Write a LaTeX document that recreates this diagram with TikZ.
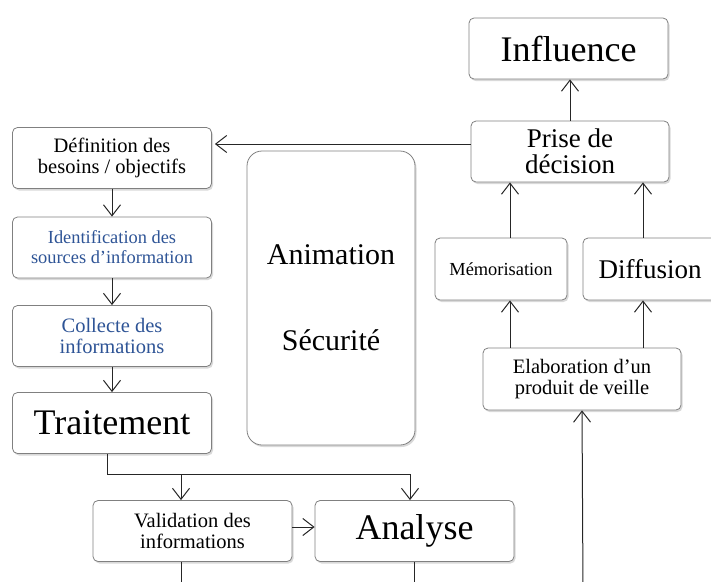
\documentclass[tikz,border=0pt]{standalone}
\usepackage{fontspec}
\setmainfont{Liberation Serif}
\usepackage{xcolor}
\usetikzlibrary{arrows.meta, shadows}

\definecolor{srcblue}{RGB}{46,84,150}
\newcommand{\fbig}{\fontsize{36}{36}\selectfont}
\newcommand{\fmid}{\fontsize{27}{26}\selectfont}
\newcommand{\fsmall}{\fontsize{20.5}{21}\selectfont}
\newcommand{\ftiny}{\fontsize{18.4}{20}\selectfont}

\begin{document}
\begin{tikzpicture}[x=1pt, y=-1pt,
    box/.style={draw=black!50, line width=0.8pt, rounded corners=5pt, fill=white,
        align=center, inner sep=0pt, minimum width=199pt, minimum height=61pt,
        drop shadow={shadow xshift=1.5pt, shadow yshift=-2pt, opacity=0.3}},
    wire/.style={draw=black!85, line width=1pt},
    arr/.style={wire, -{Straight Barb[length=11pt, width=17pt]}}]

\useasboundingbox (0,0) rectangle (711,581);
\clip (0,0) rectangle (711,581);

% left column
\node[box, font=\fsmall] (besoins) at (112,158) {D\'efinition des\\ besoins / objectifs};
\node[box, font=\ftiny, text=srcblue] (sources) at (112,247.5) {Identification des\\ sources d'information};
\node[box, font=\fsmall, text=srcblue] (collecte) at (112,336) {Collecte des\\ informations};
\node[box, font=\fbig] (traitement) at (112,423) {Traitement};

% bottom
\node[box, font=\fsmall] (validation) at (192.5,531) {Validation des\\ informations};
\node[box, font=\fbig] (analyse) at (414.5,531) {Analyse};

% middle
\node[box, rounded corners=15pt, minimum width=168pt, minimum height=294pt,
    font=\fontsize{30}{30}\selectfont] (animation) at (331,298) {Animation\\[56pt] S\'ecurit\'e};

% right column
\node[box, font=\fbig] (influence) at (568.5,48.5) {Influence};
\node[box, font=\fmid, minimum width=198pt] (decision) at (570,151.5) {Prise de\\ d\'ecision};
\node[box, font=\ftiny, minimum width=132pt, minimum height=62pt] (memo) at (501,269) {M\'emorisation};
\node[box, font=\fmid, minimum width=134pt, minimum height=62pt] (diffusion) at (650,269) {Diffusion};
\node[box, font=\fsmall, minimum width=198pt, minimum height=62pt] (produit) at (582,379) {Elaboration d'un\\ produit de veille};
\coordinate (veille) at (583,590);

% left arrows
\draw[arr] (besoins.south) -- (sources.north);
\draw[arr] (sources.south) -- (collecte.north);
\draw[arr] (collecte.south) -- (traitement.north);

% split below Traitement
\draw[arr] ([xshift=-5pt]traitement.south) -- ++(0,21) -| ([xshift=-4.5pt]analyse.north);
\draw[arr] ([xshift=-11.5pt]validation.north) ++(0,-26) -- ([xshift=-11.5pt]validation.north);
\draw[arr] ([yshift=4pt]validation.east) -- ([yshift=4pt]analyse.west);
\draw[wire] ([xshift=-11.5pt]validation.south) -- ++(0,30);
\draw[wire] (analyse.south) -- ++(0,30);

% back to the needs
\draw[arr] ([yshift=7.5pt]decision.west) -- ([yshift=7.5pt, xshift=3pt]decision.west -| besoins.east);

% right arrows
\draw[arr] (decision.north) -- (decision.north |- influence.south);
\draw[arr] ([xshift=9pt]memo.north) -- ([xshift=9pt]memo.north |- decision.south);
\draw[arr] ([xshift=-7pt]diffusion.north) -- ([xshift=-7pt]diffusion.north |- decision.south);
\draw[arr] ([xshift=9pt]memo.south |- produit.north) -- ([xshift=9pt]memo.south);
\draw[arr] ([xshift=-7pt]diffusion.south |- produit.north) -- ([xshift=-7pt]diffusion.south);
\draw[arr] (veille) -- (produit.south);
\end{tikzpicture}
\end{document}
